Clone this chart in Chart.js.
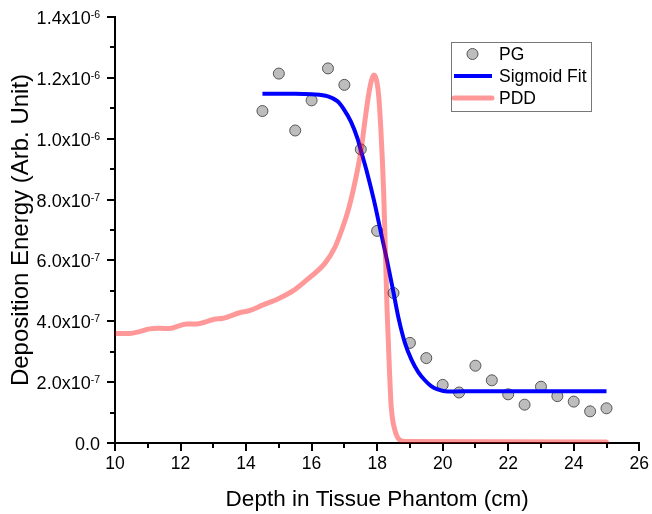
<!DOCTYPE html>
<html>
<head>
<meta charset="utf-8">
<script src="https://cdn.jsdelivr.net/npm/chart.js@4/dist/chart.umd.min.js"></script>
<style>
  body { margin: 0; background: #fff; }
  #wrap { width: 652px; height: 514px; }
</style>
</head>
<body>
<div id="wrap"><canvas id="myChart" width="652" height="514"></canvas></div>
<script>
// all energies in units of 1e-7 (Arb. Unit)
const pgDepth = [14.5, 15, 15.5, 16, 16.5, 17, 17.5, 18, 18.5, 19, 19.5, 20, 20.5, 21, 21.5, 22, 22.5, 23, 23.5, 24, 24.5, 25];
const pgValue = [10.91, 12.14, 10.27, 11.26, 12.31, 11.77, 9.65, 6.97, 4.93, 3.29, 2.79, 1.91, 1.66, 2.54, 2.06, 1.60, 1.26, 1.85, 1.54, 1.36, 1.04, 1.14];

const fitDepth = [14.5, 15.5, 16.0, 16.5, 16.8, 17.0, 17.2, 17.4, 17.5, 17.7, 17.9, 18.1, 18.3, 18.5, 18.65, 18.85, 19.05, 19.25, 19.45, 19.65, 19.85, 20.15, 20.6, 21.5, 25];
const fitValue = [11.48, 11.48, 11.46, 11.39, 11.22, 10.94, 10.56, 10.01, 9.63, 8.86, 7.99, 7.00, 6.01, 4.94, 4.12, 3.28, 2.73, 2.34, 2.07, 1.87, 1.76, 1.69, 1.70, 1.70, 1.70];

const pddDepth = [10, 10.45, 10.75, 11.05, 11.35, 11.65, 11.95, 12.2, 12.5, 12.8, 13.0, 13.3, 13.8, 14.1, 14.5, 15.0, 15.5, 15.91, 16.41, 16.72, 16.92, 17.12, 17.27, 17.40, 17.51, 17.63, 17.73, 17.83, 17.9, 17.98, 18.05, 18.11, 18.16, 18.2, 18.23, 18.26, 18.3, 18.34, 18.38, 18.43, 18.54, 18.69, 18.88, 25];
const pddValue = [3.60, 3.60, 3.66, 3.75, 3.77, 3.76, 3.85, 3.91, 3.91, 3.99, 4.06, 4.10, 4.28, 4.35, 4.53, 4.75, 5.05, 5.41, 5.91, 6.45, 7.00, 7.66, 8.31, 8.97, 9.63, 10.61, 11.38, 11.93, 12.09, 11.93, 11.38, 10.39, 9.30, 8.21, 7.11, 6.01, 4.48, 3.38, 2.29, 1.19, 0.43, 0.10, 0.05, 0.03];

const yTicks = [0, 2, 4, 6, 8, 10, 12, 14];
const yTickLabels = [["0.0", ""], ["2.0x10", "-7"], ["4.0x10", "-7"], ["6.0x10", "-7"], ["8.0x10", "-7"], ["1.0x10", "-6"], ["1.2x10", "-6"], ["1.4x10", "-6"]];

const FONT = "'Liberation Sans', Arial, sans-serif";
const PINK = "rgba(255,0,0,0.4)";

function toPoints(xs, ys) {
  return xs.map((x, i) => ({ x: x, y: ys[i] }));
}

// y tick labels with superscripts, minor ticks and the boxed legend
const extras = {
  id: "extras",
  afterDraw(chart) {
    const ctx = chart.ctx;
    const xs = chart.scales.x, ys = chart.scales.y;
    const left = chart.chartArea.left, bottom = chart.chartArea.bottom;
    ctx.save();
    ctx.strokeStyle = "#000";
    ctx.lineWidth = 2;
    ctx.beginPath();
    for (let v = 11; v < 26; v += 2) {
      const px = Math.round(xs.getPixelForValue(v));
      ctx.moveTo(px, bottom);
      ctx.lineTo(px, bottom + 5);
    }
    for (let v = 1; v < 14; v += 2) {
      const py = Math.round(ys.getPixelForValue(v));
      ctx.moveTo(left, py);
      ctx.lineTo(left - 5, py);
    }
    ctx.stroke();

    ctx.fillStyle = "#000";
    ctx.textAlign = "right";
    ctx.textBaseline = "alphabetic";
    yTicks.forEach((v, i) => {
      const py = ys.getPixelForValue(v);
      const [mant, exp] = yTickLabels[i];
      let right = 100;
      if (exp) {
        ctx.font = "10.5px " + FONT;
        ctx.fillText(exp, right, py + 1);
        right -= ctx.measureText(exp).width;
      }
      ctx.font = "18px " + FONT;
      ctx.fillText(mant, right, py + 7);
    });

    // legend
    const sets = chart.data.datasets;
    ctx.lineWidth = 1;
    ctx.strokeStyle = "#777";
    ctx.strokeRect(451.5, 42.5, 140, 69);
    ctx.font = "17.5px " + FONT;
    ctx.textAlign = "left";
    ctx.textBaseline = "middle";
    const rows = [54, 76, 98];
    sets.forEach((ds, i) => {
      const y = rows[i];
      if (ds.showLine === false) {
        ctx.beginPath();
        ctx.arc(472.5, y, 5.5, 0, Math.PI * 2);
        ctx.fillStyle = ds.backgroundColor;
        ctx.fill();
        ctx.lineWidth = 1;
        ctx.strokeStyle = ds.borderColor;
        ctx.stroke();
      } else {
        ctx.beginPath();
        ctx.lineCap = ds.borderCapStyle || "butt";
        ctx.lineWidth = ds.borderWidth;
        ctx.strokeStyle = ds.borderColor;
        ctx.moveTo(454, y);
        ctx.lineTo(492, y);
        ctx.stroke();
      }
      ctx.fillStyle = "#000";
      ctx.fillText(ds.label, 499, y + 1);
    });
    ctx.restore();
  }
};

const ctx = document.getElementById("myChart").getContext("2d");
const axisGrid = { drawOnChartArea: false, color: "#000", lineWidth: 2, tickLength: 8 };
const axisBorder = { color: "#000", width: 2 };

new Chart(ctx, {
  type: "line",
  data: {
    datasets: [
      {
        label: "PG",
        data: toPoints(pgDepth, pgValue),
        showLine: false,
        pointRadius: 5.5,
        pointBackgroundColor: "#bdbdbd",
        pointBorderColor: "#555",
        pointBorderWidth: 1,
        backgroundColor: "#bdbdbd",
        borderColor: "#555",
        order: 2
      },
      {
        label: "Sigmoid Fit",
        data: toPoints(fitDepth, fitValue),
        borderColor: "#0000ff",
        borderWidth: 4,
        pointRadius: 0,
        cubicInterpolationMode: "monotone",
        order: 1
      },
      {
        label: "PDD",
        data: toPoints(pddDepth, pddValue),
        borderColor: PINK,
        borderWidth: 5,
        borderCapStyle: "round",
        borderJoinStyle: "round",
        pointRadius: 0,
        cubicInterpolationMode: "monotone",
        order: 0
      }
    ]
  },
  options: {
    responsive: false,
    animation: false,
    layout: { padding: { left: 0, right: 9, top: 17, bottom: 0 } },
    plugins: { legend: { display: false }, tooltip: { enabled: false } },
    scales: {
      x: {
        type: "linear",
        min: 10,
        max: 26,
        ticks: { stepSize: 2, color: "#000", font: { family: FONT, size: 17.5 }, padding: 3, maxRotation: 0 },
        grid: axisGrid,
        border: axisBorder,
        title: { display: true, text: "Depth in Tissue Phantom (cm)", color: "#000", font: { family: FONT, size: 22.5 }, padding: { top: 4, bottom: 1 } },
        afterFit: s => { s.height = 71; }
      },
      y: {
        min: 0,
        max: 14,
        ticks: { stepSize: 2, display: false },
        grid: axisGrid,
        border: axisBorder,
        title: { display: true, text: "Deposition Energy (Arb. Unit)", color: "#000", font: { family: FONT, size: 24 }, padding: { top: 7, bottom: 0 } },
        afterFit: s => { s.width = 115; }
      }
    }
  },
  plugins: [extras]
});
</script>
</body>
</html>
